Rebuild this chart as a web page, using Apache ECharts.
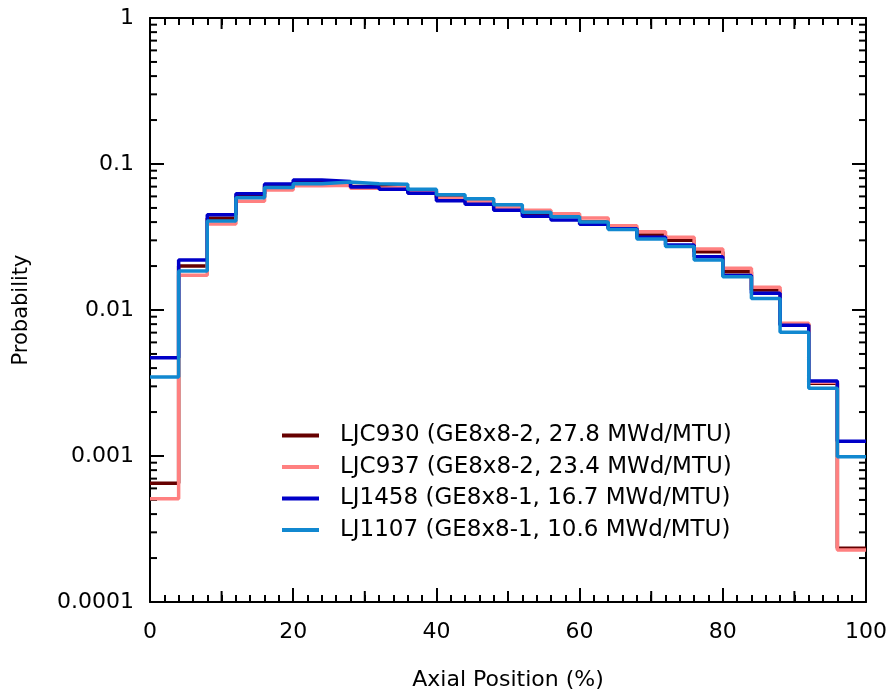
<!DOCTYPE html>
<html>
<head>
<meta charset="utf-8">
<script src="https://cdn.jsdelivr.net/npm/echarts@6/dist/echarts.min.js"></script>
<style>
  html, body { margin: 0; padding: 0; background: #fff; }
  #chart { width: 895px; height: 697px; }
</style>
</head>
<body>
<div id="chart"></div>
<script>
// bin left edges (%), each bin is 4% wide
const binStart = [0, 4, 8, 12, 16, 20, 24, 28, 32, 36, 40, 44, 48, 52, 56, 60, 64, 68, 72, 76, 80, 84, 88, 92, 96];
const binEnd = 100;

const names = [
  "LJC930 (GE8x8-2, 27.8 MWd/MTU)",
  "LJC937 (GE8x8-2, 23.4 MWd/MTU)",
  "LJ1458 (GE8x8-1, 16.7 MWd/MTU)",
  "LJ1107 (GE8x8-1, 10.6 MWd/MTU)",
];

const ljc930 = [0.00065, 0.0200, 0.0425, 0.0597, 0.0710, 0.0750, 0.0740, 0.0700, 0.0690, 0.0650, 0.0590, 0.0547, 0.0500, 0.0460, 0.0440, 0.0400, 0.0365, 0.0327, 0.0300, 0.0251, 0.0183, 0.0137, 0.0080, 0.00315, 0.000233];
const ljc937 = [0.00051, 0.0173, 0.0388, 0.0556, 0.0664, 0.0710, 0.0715, 0.0682, 0.0690, 0.0660, 0.0582, 0.0550, 0.0505, 0.0482, 0.0457, 0.0427, 0.0378, 0.0344, 0.0315, 0.0262, 0.0193, 0.0143, 0.0081, 0.0032, 0.000227];
const lj1458 = [0.00470, 0.0220, 0.0450, 0.0626, 0.0730, 0.0777, 0.0760, 0.0696, 0.0671, 0.0630, 0.0561, 0.0530, 0.0482, 0.0438, 0.0413, 0.0387, 0.0360, 0.0315, 0.0279, 0.0232, 0.0172, 0.0130, 0.00785, 0.00326, 0.00126];
const lj1107 = [0.00348, 0.0185, 0.0407, 0.0588, 0.0689, 0.0733, 0.0753, 0.0733, 0.0726, 0.0671, 0.0616, 0.0578, 0.0526, 0.0467, 0.0435, 0.0401, 0.0356, 0.0306, 0.0272, 0.0220, 0.0169, 0.0120, 0.00703, 0.00291, 0.00099];

const colors = ["#660000", "#ff8080", "#0000c8", "#1188d0"];

// minor ticks of the log y axis, and the 10s ticks between labelled x ticks
const yMinorTicks = [
  0.0002, 0.0003, 0.0004, 0.0005, 0.0006, 0.0007, 0.0008, 0.0009,
  0.002, 0.003, 0.004, 0.005, 0.006, 0.007, 0.008, 0.009,
  0.02, 0.03, 0.04, 0.05, 0.06, 0.07, 0.08, 0.09,
  0.2, 0.3, 0.4, 0.5, 0.6, 0.7, 0.8, 0.9,
];
const xMidTicks = [10, 30, 50, 70, 90];

function stepData(vals) {
  // last bin is extended to the right edge so the step covers it
  const pts = binStart.map((x, i) => [x, vals[i]]);
  pts.push([binEnd, vals[vals.length - 1]]);
  return pts;
}

const font = "DejaVu Sans";
const tickStyle = { stroke: "#000", lineWidth: 2 };
const chart = echarts.init(document.getElementById("chart"));

const xBase = {
  type: "value",
  min: 0,
  max: 100,
  interval: 20,
  splitLine: { show: false },
  axisLine: { show: true, onZero: false, lineStyle: { color: "#000", width: 2 } },
  axisTick: { inside: true, length: 14, lineStyle: { color: "#000", width: 2 } },
  minorTick: { show: true, splitNumber: 10, length: 7, lineStyle: { color: "#000", width: 2 } },
};
const yBase = {
  type: "log",
  logBase: 10,
  min: 0.0001,
  max: 1,
  splitLine: { show: false },
  axisLine: { show: true, onZero: false, lineStyle: { color: "#000", width: 2 } },
  axisTick: { inside: true, length: 14, lineStyle: { color: "#000", width: 2 } },
};

const option = {
  animation: false,
  color: colors,
  grid: { left: 150, right: 29, top: 18, bottom: 95 },
  legend: {
    orient: "vertical",
    left: 277,
    top: 419,
    itemWidth: 37,
    itemHeight: 4,
    itemGap: 8.5,
    icon: "rect",
    textStyle: { fontFamily: font, fontSize: 23, color: "#000", padding: [0, 0, 0, 16], lineHeight: 23 },
    data: names,
  },
  xAxis: [
    Object.assign({}, xBase, {
      position: "bottom",
      name: "Axial Position (%)",
      nameLocation: "middle",
      nameGap: 67,
      nameTextStyle: { fontFamily: font, fontSize: 22, color: "#000" },
      axisLabel: { fontFamily: font, fontSize: 22, color: "#000", margin: 19 },
    }),
    Object.assign({}, xBase, {
      position: "top",
      axisLabel: { show: false },
    }),
  ],
  yAxis: [
    Object.assign({}, yBase, {
      position: "left",
      name: "Probability",
      nameLocation: "middle",
      nameGap: 118,
      nameTextStyle: { fontFamily: font, fontSize: 21, color: "#000" },
      axisLabel: {
        fontFamily: font,
        fontSize: 22,
        color: "#000",
        margin: 16,
        formatter: (v) => String(v),
      },
    }),
    Object.assign({}, yBase, {
      position: "right",
      axisLabel: { show: false },
    }),
  ],
  series: [ljc930, ljc937, lj1458, lj1107].map((vals, i) => ({
    name: names[i],
    type: "line",
    step: "end",
    xAxisIndex: 0,
    yAxisIndex: 0,
    showSymbol: false,
    data: stepData(vals),
    lineStyle: { width: 3.5, color: colors[i] },
    itemStyle: { color: colors[i] },
    z: 3 + i,
  })).concat([
    {
      // log minor ticks on left and right frame
      type: "custom",
      silent: true,
      xAxisIndex: 0,
      yAxisIndex: 0,
      data: yMinorTicks.map((v) => [0, v]),
      renderItem: (params, api) => {
        const l = api.coord([0, api.value(1)]);
        const r = api.coord([100, api.value(1)]);
        return {
          type: "group",
          children: [
            { type: "line", shape: { x1: l[0], y1: l[1], x2: l[0] + 7, y2: l[1] }, style: tickStyle },
            { type: "line", shape: { x1: r[0], y1: r[1], x2: r[0] - 7, y2: r[1] }, style: tickStyle },
          ],
        };
      },
      z: 2,
    },
    {
      // medium ticks at 10, 30, ... on bottom and top frame
      type: "custom",
      silent: true,
      xAxisIndex: 0,
      yAxisIndex: 0,
      data: xMidTicks.map((v) => [v, 1]),
      renderItem: (params, api) => {
        const t = api.coord([api.value(0), 1]);
        const b = api.coord([api.value(0), 0.0001]);
        return {
          type: "group",
          children: [
            { type: "line", shape: { x1: b[0], y1: b[1], x2: b[0], y2: b[1] - 11 }, style: tickStyle },
            { type: "line", shape: { x1: t[0], y1: t[1], x2: t[0], y2: t[1] + 11 }, style: tickStyle },
          ],
        };
      },
      z: 2,
    },
  ]),
};

chart.setOption(option);
</script>
</body>
</html>
